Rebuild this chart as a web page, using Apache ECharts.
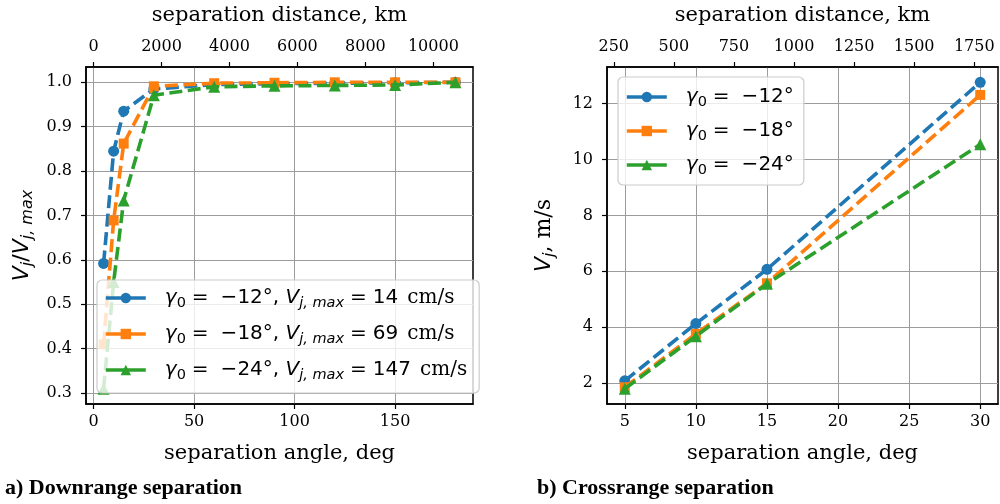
<!DOCTYPE html>
<html>
<head>
<meta charset="utf-8">
<script src="https://cdn.jsdelivr.net/npm/echarts@6/dist/echarts.min.js"></script>
<style>
  html, body { margin: 0; padding: 0; background: #fff; }
  #chart { width: 1000px; height: 504px; }
</style>
</head>
<body>
<div id="chart"></div>
<script>
// Mars surface: km of great-circle distance per degree of separation angle
const KM_PER_DEG = 59.16;

// a) Downrange separation: normalised jet speed vs separation angle
const downAngle = [5, 10, 15, 30, 60, 90, 120, 150, 180];
const downG12 = [0.592, 0.845, 0.935, 0.985, 0.995, 0.997, 0.998, 0.999, 1.0];
const downG18 = [0.41, 0.689, 0.862, 0.991, 0.998, 0.999, 1.0, 1.0, 1.0];
const downG24 = [0.31, 0.55, 0.734, 0.971, 0.99, 0.992, 0.993, 0.994, 1.0];
const downVmax = [14, 69, 147]; // cm/s
const downAngleTicks = [0, 50, 100, 150];
const downKmTicks = [0, 2000, 4000, 6000, 8000, 10000];
const downRatioTicks = [0.3, 0.4, 0.5, 0.6, 0.7, 0.8, 0.9, 1.0];

// b) Crossrange separation: jet speed (m/s) vs separation angle
const crossAngle = [5, 10, 15, 30];
const crossG12 = [2.08, 4.13, 6.07, 12.76];
const crossG18 = [1.85, 3.76, 5.57, 12.31];
const crossG24 = [1.80, 3.68, 5.55, 10.54];
const crossAngleTicks = [5, 10, 15, 20, 25, 30];
const crossKmTicks = [250, 500, 750, 1000, 1250, 1500, 1750];
const crossSpeedTicks = [2, 4, 6, 8, 10, 12];

const gammas = [-12, -18, -24];
const colors = ['#1f77b4', '#ff7f0e', '#2ca02c'];
const symbols = ['circle', 'rect', 'triangle'];
const symbolSizes = [11, 10, 12];

// autoscale limits with 5% padding on each side
function padded(values) {
  const lo = Math.min(...values), hi = Math.max(...values);
  const m = (hi - lo) * 0.05;
  return [lo - m, hi + m];
}

const SERIF = 'DejaVu Serif';
const SANS = 'DejaVu Sans';
const black = '#000';

const downX = padded(downAngle);
const downY = padded([...downG12, ...downG18, ...downG24]);
const crossX = padded(crossAngle);
const crossY = padded([...crossG12, ...crossG18, ...crossG24]);

const spine = { color: black, width: 1.5 };
const tickStyle = { color: black, width: 1.2 };
const gridLine = { show: true, lineStyle: { color: '#9c9c9c', width: 1 } };
const tickFont = { fontFamily: SERIF, fontSize: 16, color: black };
const nameFont = { fontFamily: SERIF, fontSize: 21, color: black };

function angleAxis(grid, lim, ticks) {
  return {
    gridIndex: grid, type: 'value', position: 'bottom',
    min: lim[0], max: lim[1],
    axisLine: { show: true, onZero: false, lineStyle: spine },
    axisTick: { show: true, length: 5, customValues: ticks, lineStyle: tickStyle },
    axisLabel: Object.assign({ customValues: ticks, margin: 10, hideOverlap: false, formatter: v => String(v) }, tickFont),
    splitLine: gridLine,
    name: 'separation angle, deg', nameLocation: 'middle', nameGap: 39,
    nameTextStyle: nameFont
  };
}

function kmAxis(grid, lim, ticks) {
  return {
    gridIndex: grid, type: 'value', position: 'top',
    min: lim[0] * KM_PER_DEG, max: lim[1] * KM_PER_DEG,
    axisLine: { show: true, onZero: false, lineStyle: spine },
    axisTick: { show: true, length: 5, customValues: ticks, lineStyle: tickStyle },
    axisLabel: Object.assign({ customValues: ticks, margin: 12, hideOverlap: false, formatter: v => String(v) }, tickFont),
    splitLine: { show: false },
    name: 'separation distance, km', nameLocation: 'middle', nameGap: 41,
    nameTextStyle: nameFont
  };
}

const FS = 20;
const mathRich = {
  t: { fontFamily: SANS, fontSize: FS, color: black, lineHeight: 26 },
  it: { fontFamily: SANS, fontStyle: 'italic', fontSize: FS, color: black, lineHeight: 26 },
  sub: { fontFamily: SANS, fontStyle: 'italic', fontSize: 14.5, color: black, lineHeight: 15, verticalAlign: 'bottom' },
  subr: { fontFamily: SANS, fontSize: 14.5, color: black, lineHeight: 15, verticalAlign: 'bottom' },
  rm: { fontFamily: SERIF, fontSize: FS, color: black, lineHeight: 26 },
  sp: { width: 14 },
  g1: { width: 6 },
  g2: { width: 12 },
  g3: { width: 9 },
  nameT: { fontFamily: SANS, fontSize: 22, color: black, lineHeight: 28 },
  nameIt: { fontFamily: SANS, fontStyle: 'italic', fontSize: 22, color: black, lineHeight: 28 },
  nameSub: { fontFamily: SANS, fontStyle: 'italic', fontSize: 16, color: black, lineHeight: 16, verticalAlign: 'bottom' },
  nameRm: { fontFamily: SERIF, fontSize: 22, color: black, lineHeight: 28 }
};

function speedAxis(grid, lim, ticks, fmt, nameText, gap) {
  return {
    gridIndex: grid, type: 'value',
    min: lim[0], max: lim[1],
    axisLine: { show: true, onZero: false, lineStyle: spine },
    axisTick: { show: true, length: 5, customValues: ticks, lineStyle: tickStyle },
    axisLabel: Object.assign({ customValues: ticks, margin: 14, hideOverlap: false, formatter: fmt }, tickFont),
    splitLine: gridLine,
    name: nameText, nameLocation: 'middle', nameGap: gap, nameRotate: 90,
    nameTextStyle: { rich: mathRich }
  };
}

const downNames = gammas.map(g => 'downrange ' + g);
const crossNames = gammas.map(g => 'crossrange ' + g);

function makeSeries(names, xs, ys, axisIdx) {
  return names.map((n, i) => ({
    name: n, type: 'line',
    xAxisIndex: axisIdx.x, yAxisIndex: axisIdx.y,
    data: xs.map((x, j) => [x, ys[i][j]]),
    symbol: symbols[i], symbolSize: symbolSizes[i],
    showSymbol: true,
    color: colors[i],
    itemStyle: { color: colors[i] },
    lineStyle: { color: colors[i], width: 3.6, type: [13, 5.5] },
    z: 2 + i,
    animation: false
  }));
}

function gammaText(i) {
  return '{sp|}{it|γ}{subr|0}{g1|}{t|=}{g2|}{t|−' + Math.abs(gammas[i]) + '°}';
}

const legendBase = {
  orient: 'vertical',
  itemWidth: 40, itemHeight: 13,
  backgroundColor: 'rgba(255,255,255,0.8)',
  borderColor: '#cccccc', borderWidth: 1.2, borderRadius: 5,
  selectedMode: false,
  lineStyle: { type: 'solid', width: 3.6 },
  textStyle: { rich: mathRich },
  z: 10
};

const option = {
  animation: false,
  backgroundColor: '#fff',
  grid: [
    { left: 86, top: 67, width: 387, height: 337, show: true, borderColor: black, borderWidth: 1.5, containLabel: false },
    { left: 607, top: 66, width: 391, height: 338, show: true, borderColor: black, borderWidth: 1.5, containLabel: false }
  ],
  xAxis: [
    angleAxis(0, downX, downAngleTicks),
    kmAxis(0, downX, downKmTicks),
    angleAxis(1, crossX, crossAngleTicks),
    kmAxis(1, crossX, crossKmTicks)
  ],
  yAxis: [
    speedAxis(0, downY, downRatioTicks, v => v.toFixed(1),
      '{nameIt|V}{nameSub|j}{nameT|/}{nameIt|V}{nameSub|j, max}', 50),
    speedAxis(1, crossY, crossSpeedTicks, v => String(v),
      '{nameIt|V}{nameSub|j}{nameRm|, m/s}', 49)
  ],
  legend: [
    Object.assign({}, legendBase, {
      left: 97, top: 280, itemGap: 13, padding: [8, 12, 10, 7],
      data: downNames,
      formatter: name => {
        const i = downNames.indexOf(name);
        return gammaText(i) + '{t|, }{it|V}{sub|j, max}{g1|}{t|=}{g1|}{t|' + downVmax[i] + '}{g3|}{rm|cm/s}';
      }
    }),
    Object.assign({}, legendBase, {
      left: 618, top: 77, itemGap: 11, padding: [10, 10, 7, 7],
      data: crossNames,
      formatter: name => gammaText(crossNames.indexOf(name))
    })
  ],
  series: [
    ...makeSeries(downNames, downAngle, [downG12, downG18, downG24], { x: 0, y: 0 }),
    ...makeSeries(crossNames, crossAngle, [crossG12, crossG18, crossG24], { x: 2, y: 1 })
  ],
  graphic: [
    { type: 'text', left: 5, top: 477, style: { text: 'a) Downrange separation', font: 'bold 22px "Liberation Serif"', fill: black } },
    { type: 'text', left: 537, top: 477, style: { text: 'b) Crossrange separation', font: 'bold 22px "Liberation Serif"', fill: black } }
  ]
};

const chart = echarts.init(document.getElementById('chart'), null, { renderer: 'canvas' });
chart.setOption(option);
</script>
</body>
</html>
